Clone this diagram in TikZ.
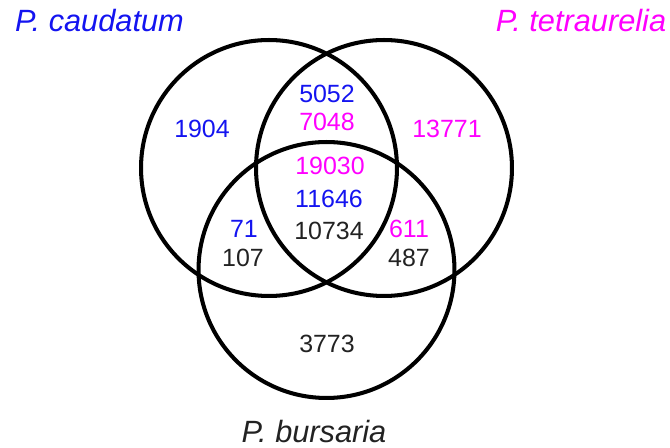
\documentclass[tikz,border=0pt]{standalone}
\usepackage{fontspec}
\setmainfont{Liberation Sans}
\usepackage{xcolor}
\usetikzlibrary{positioning}

\definecolor{capblue}{RGB}{20,20,240}
\definecolor{tetmag}{RGB}{255,0,255}
\definecolor{bursgray}{RGB}{34,34,34}

\begin{document}
\begin{tikzpicture}[x=0.02cm, y=-0.02cm]

\tikzset{
    setcircle/.style={circle, draw=black, line width=2.3pt, minimum size=5.12cm, inner sep=0pt},
    count/.style={inner sep=0pt, font=\fontsize{14.2}{17}\selectfont, text=#1},
    species/.style={inner sep=0pt, anchor=base, font=\fontsize{17.5}{20}\selectfont\itshape, text=#1}
}

\useasboundingbox (0,0) rectangle (670,448);

% ── 三个集合 ──
\node[setcircle] (Ccau) at (269,168) {};
\node[setcircle] (Ctet) at (384,168) {};
\node[setcircle] (Cbur) at (326.5,270) {};

% ── 物种名 ──
\node[species=capblue]  (Lcau) at (99.5,32) {P. caudatum};
\node[species=tetmag]   (Ltet) at (581,32)  {P. tetraurelia};
\node[species=bursgray] (Lbur) at (314,443) {P. bursaria};

% ── 计数 ──
\node[count=capblue]  (n1904)  at (202,129) {1904};
\node[count=capblue]  (n5052)  at (327,94)  {5052};
\node[count=tetmag]   (n7048)  at (327,122) {7048};
\node[count=tetmag]   (n13771) at (447,129) {13771};
\node[count=tetmag]   (n19030) at (330,166) {19030};
\node[count=capblue]  (n11646) at (329,199) {11646};
\node[count=bursgray] (n10734) at (329,231) {10734};
\node[count=capblue]  (n71)    at (244,229) {71};
\node[count=bursgray] (n107)   at (243,258) {107};
\node[count=tetmag]   (n611)   at (409,229) {611};
\node[count=bursgray] (n487)   at (409,258) {487};
\node[count=bursgray] (n3773)  at (327,344) {3773};

\end{tikzpicture}
\end{document}
